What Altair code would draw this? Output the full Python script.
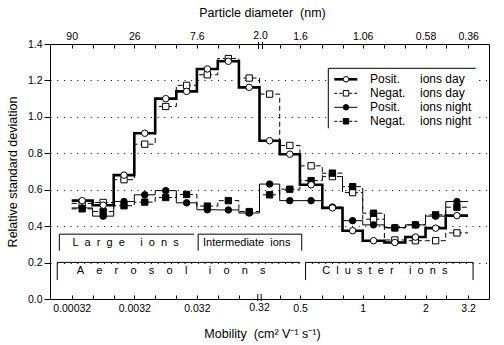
import altair as alt
import pandas as pd
import math

FONT = "Liberation Sans"
NB = "\u00a0"

# ---- data --------------------------------------------------------------
# mobility bin edges (cm^2 V^-1 s^-1)
edges = [0.00032, 0.00069, 0.0015, 0.0032, 0.0069, 0.015, 0.032, 0.069, 0.15,
         0.32, 0.40, 0.50, 0.64, 0.80, 1.0, 1.27, 1.6, 2.0, 2.5, 3.2]

pos_day = [0.54, 0.515, 0.68, 0.91, 1.10, 1.14, 1.263, 1.305, 1.162, 0.869,
           0.795, 0.627, 0.50, 0.375, 0.32, 0.31, 0.34, 0.389, 0.458]
neg_day = [0.525, 0.53, 0.655, 0.85, 1.057, 1.173, 1.231, 1.32, 1.213, 1.125,
           0.843, 0.731, 0.672, 0.584, 0.438, 0.324, 0.32, 0.32, 0.363]
pos_night = [0.50, 0.455, 0.535, 0.572, 0.595, 0.528, 0.49, 0.489, 0.472, 0.631,
             0.54, 0.54, 0.505, 0.43, 0.407, 0.392, 0.407, 0.455, 0.535]
neg_night = [0.495, 0.48, 0.512, 0.532, 0.557, 0.574, 0.51, 0.54, 0.48, 0.572,
             0.603, 0.65, 0.691, 0.617, 0.471, 0.39, 0.407, 0.462, 0.504]

# bottom axis ticks / labels
bottom_ticks = [0.00032, 0.00069, 0.0015, 0.0032, 0.0069, 0.015, 0.032, 0.069, 0.15,
                0.40, 0.50, 0.64, 0.80, 1.0, 1.27, 1.6, 2.0, 2.5, 3.2]
bottom_label_vals = [0.00032, 0.0032, 0.032, 0.50, 1.0, 2.0, 3.2]
bottom_label_txt = ["0.00032", "0.0032", "0.032", "0.5", "1", "2", "3.2"]
break_label_val = 0.32
# top axis (particle diameter, nm)
top_label_vals = [0.00032, 0.0032, 0.032, 0.50, 1.0, 2.0, 3.2]
top_label_txt = ["90", "26", "7.6", "1.6", "1.06", "0.58", "0.36"]

# brackets
br_names = ["Large", "Intermediate", "Aerosol", "Cluster"]
br_lo = [0.000203, 0.0335, 0.000188, 0.532]
br_hi = [0.029, 0.51, 0.50, 3.38]
br_top = [0.356, 0.356, 0.201, 0.201]
br_bot = [0.266, 0.266, 0.104, 0.104]
br_left_drop = [True, True, True, True]
br_right_drop = [False, True, False, True]
br_text = [
    (NB * 2).join("Large") + NB * 5 + (NB * 2).join("ions"),
    "Intermediate" + NB * 2 + "ions",
    (NB * 4).join("Aerosol") + NB * 7 + (NB * 4).join("ions"),
    (NB * 2).join("Cluster") + NB * 5 + (NB * 2).join("ions"),
]
br_text_x = [0.00232, 0.20, 0.0124, 1.276]
br_text_y = [0.306, 0.306, 0.152, 0.152]

# ---- scales / axes ----------------------------------------------------
W, H = 439, 255
xscale = alt.Scale(type="log", domain=[0.000144, 0.32, 4.03], range=[0, 209.5, W],
                   nice=False, zero=False)
yscale = alt.Scale(domain=[0, 1.4], nice=False, zero=False)


def label_expr(vals, txts):
    expr = "''"
    for v, t in reversed(list(zip(vals, txts))):
        expr = f"datum.value == {repr(v)} ? '{t}' : ({expr})"
    return expr


yaxis = alt.Axis(values=[0, 0.2, 0.4, 0.6, 0.8, 1.0, 1.2, 1.4], format=".1f",
                 tickSize=6, labelPadding=2, grid=True, gridDash=[1, 5.7],
                 gridColor="black", gridWidth=1, domain=False,
                 title="Relative standard deviation", titlePadding=8)

bottom_axis = alt.Axis(orient="bottom", values=bottom_ticks,
                       labelExpr=label_expr(bottom_label_vals, bottom_label_txt),
                       tickSize=4, offset=-4, domain=False, grid=False,
                       labelPadding=4, labelOverlap=False, labelFlush=False,
                       title="Mobility" + NB * 2 + "(cm² V⁻¹ s⁻¹)", titlePadding=14,
                       titleX=212, titleAlign="center")
top_axis = alt.Axis(orient="top", values=bottom_ticks,
                    labelExpr=label_expr(top_label_vals, top_label_txt),
                    tickSize=4, offset=-4, domain=False, grid=False,
                    labelPadding=3, labelOverlap=False, labelFlush=False,
                    title="Particle diameter" + NB * 2 + "(nm)", titlePadding=12,
                    titleX=212, titleAlign="center")


def step_df(vals):
    rows = []
    for i, v in enumerate(vals):
        rows.append({"m": edges[i], "v": v, "o": 2 * i})
        rows.append({"m": edges[i + 1], "v": v, "o": 2 * i + 1})
    return pd.DataFrame(rows)


def center_df(vals):
    return pd.DataFrame({"m": [math.sqrt(edges[i] * edges[i + 1]) for i in range(len(vals))],
                         "v": vals})


def Y():
    return alt.Y("v:Q", scale=yscale, axis=yaxis)


def step_layer(vals, width, dash=None, axis=None):
    kw = dict(color="black", strokeWidth=width)
    if dash:
        kw["strokeDash"] = dash
    return alt.Chart(step_df(vals)).mark_line(**kw).encode(
        x=alt.X("m:Q", scale=xscale, axis=axis), y=Y(), order="o:Q")


def marker_layer(vals, shape, fill, size, axis=None):
    return alt.Chart(center_df(vals)).mark_point(
        shape=shape, filled=True, fill=fill, stroke="black", strokeWidth=1,
        size=size, opacity=1).encode(
        x=alt.X("m:Q", scale=xscale, axis=axis), y=Y())


layers = []

# brackets
br_h = pd.DataFrame({"lo": br_lo, "hi": br_hi, "v": br_top})
layers.append(alt.Chart(br_h).mark_rule(color="black", strokeWidth=1).encode(
    x=alt.X("lo:Q", scale=xscale, axis=None), x2="hi:Q", y=Y()))
drops = []
for i in range(len(br_names)):
    if br_left_drop[i]:
        drops.append({"m": br_lo[i], "v": br_top[i], "v2": br_bot[i]})
    if br_right_drop[i]:
        drops.append({"m": br_hi[i], "v": br_top[i], "v2": br_bot[i]})
layers.append(alt.Chart(pd.DataFrame(drops)).mark_rule(color="black", strokeWidth=1).encode(
    x=alt.X("m:Q", scale=xscale, axis=None), y=Y(), y2="v2:Q"))
layers.append(alt.Chart(pd.DataFrame({"m": br_text_x, "v": br_text_y, "t": br_text})).mark_text(
    font=FONT, fontSize=11, color="black", align="center", baseline="middle").encode(
    x=alt.X("m:Q", scale=xscale, axis=None), y=Y(), text="t:N"))

# step lines
layers.append(step_layer(neg_day, 1, [5, 3]))
layers.append(step_layer(neg_night, 1, [5, 3]))
layers.append(step_layer(pos_night, 1))
layers.append(step_layer(pos_day, 2.6, axis=bottom_axis))

# markers
layers.append(marker_layer(neg_day, "square", "white", 40))
layers.append(marker_layer(neg_night, "square", "black", 40))
layers.append(marker_layer(pos_night, "circle", "black", 42))
layers.append(marker_layer(pos_day, "circle", "white", 42, axis=top_axis))

# axis breaks at 0.32
one = pd.DataFrame({"a": [0]})
for dx in (-1.7, 1.7):
    layers.append(alt.Chart(one).mark_rule(color="black", strokeWidth=1, xOffset=dx).encode(
        x=alt.X(datum=break_label_val, type="quantitative", scale=xscale, axis=None),
        y=alt.value(H - 5), y2=alt.value(H + 2)))
for dx in (-1.0, 3.0):
    layers.append(alt.Chart(one).mark_rule(color="black", strokeWidth=1, xOffset=dx).encode(
        x=alt.X(datum=break_label_val, type="quantitative", scale=xscale, axis=None),
        y=alt.value(-2), y2=alt.value(5)))
layers.append(alt.Chart(one).mark_text(font=FONT, fontSize=10.5, color="black",
                                       align="center", baseline="top", dx=0).encode(
    x=alt.X(datum=break_label_val, type="quantitative", scale=xscale, axis=None),
    y=alt.value(H + 4), text=alt.value("0.32")))
layers.append(alt.Chart(one).mark_text(font=FONT, fontSize=10.5, color="black",
                                       align="center", baseline="bottom", dx=1).encode(
    x=alt.X(datum=break_label_val, type="quantitative", scale=xscale, axis=None),
    y=alt.value(-3), text=alt.value("2.0")))

# custom legend (decoration)
LX0, LX1, LY0, LY1 = 278.3, 425.7, 24.3, 84.3
layers.append(alt.Chart(one).mark_rect(fill="white", stroke=None).encode(
    x=alt.value(LX0), x2=alt.value(LX1), y=alt.value(LY0), y2=alt.value(LY1)))
layers.append(alt.Chart(one).mark_rule(color="black", strokeWidth=1).encode(
    x=alt.value(LX0), x2=alt.value(LX1), y=alt.value(LY0)))
layers.append(alt.Chart(one).mark_rule(color="black", strokeWidth=1).encode(
    x=alt.value(LX0), y=alt.value(LY0), y2=alt.value(LY1)))

leg_kind = ["Posit.", "Negat.", "Posit.", "Negat."]
leg_when = ["ions day", "ions day", "ions night", "ions night"]
leg_width = [2.6, 1, 1, 1]
leg_dash = [None, [3, 2], None, [3, 2]]
leg_shape = ["circle", "square", "circle", "square"]
leg_fill = ["white", "white", "black", "black"]
leg_y = [35.3, 49.3, 63.3, 77.3]
for i in range(4):
    kw = dict(color="black", strokeWidth=leg_width[i])
    if leg_dash[i]:
        kw["strokeDash"] = leg_dash[i]
    layers.append(alt.Chart(one).mark_rule(**kw).encode(
        x=alt.value(284.3), x2=alt.value(307.3), y=alt.value(leg_y[i])))
    layers.append(alt.Chart(one).mark_point(shape=leg_shape[i], filled=True, fill=leg_fill[i],
                                            stroke="black", strokeWidth=1, size=30,
                                            opacity=1).encode(
        x=alt.value(296), y=alt.value(leg_y[i])))
    layers.append(alt.Chart(one).mark_text(font=FONT, fontSize=12, color="black",
                                           align="left", baseline="middle").encode(
        x=alt.value(320), y=alt.value(leg_y[i]), text=alt.value(leg_kind[i])))
    layers.append(alt.Chart(one).mark_text(font=FONT, fontSize=12, color="black",
                                           align="left", baseline="middle").encode(
        x=alt.value(370), y=alt.value(leg_y[i]), text=alt.value(leg_when[i])))

chart = alt.layer(*layers).resolve_axis(x="independent").properties(
    width=W, height=H,
    autosize=alt.AutoSizeParams(type="none"),
    padding={"left": 50, "top": 44, "right": 15, "bottom": 46},
    background="white",
).configure_view(stroke="black", strokeWidth=1).configure_axis(
    labelFont=FONT, titleFont=FONT, labelFontSize=10.5, titleFontSize=12.5,
    titleFontWeight="normal", labelColor="black", titleColor="black",
    tickColor="black", domainColor="black")

chart.save("out.html", embed_options={"renderer": "svg", "actions": False})
